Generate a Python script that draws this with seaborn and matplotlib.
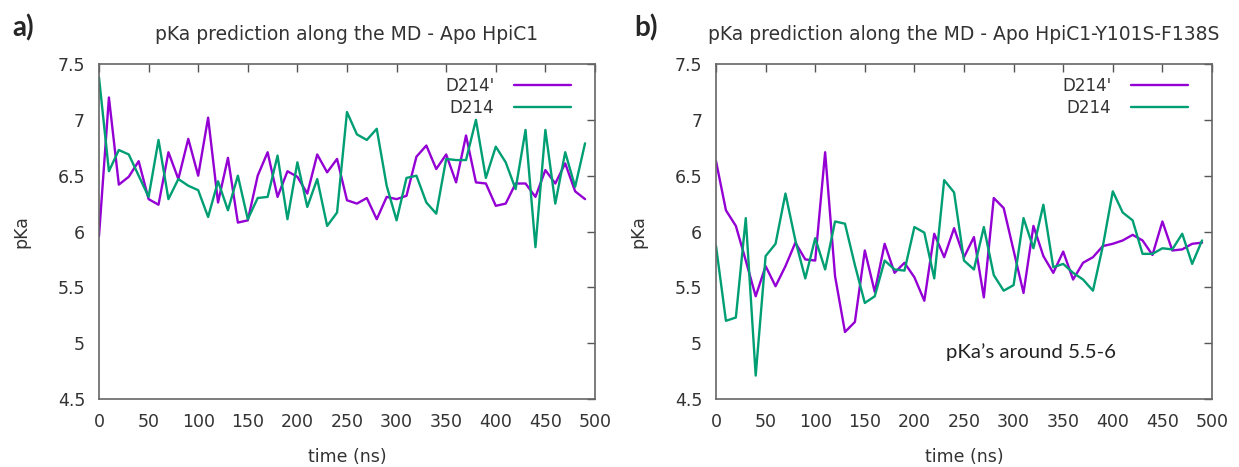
import pandas as pd
import seaborn as sns
import matplotlib.pyplot as plt
from matplotlib.ticker import FormatStrFormatter

# time axis (ns), one pKa sample every 10 ns
time_ns = [0, 10, 20, 30, 40, 50, 60, 70, 80, 90,
           100, 110, 120, 130, 140, 150, 160, 170, 180, 190,
           200, 210, 220, 230, 240, 250, 260, 270, 280, 290,
           300, 310, 320, 330, 340, 350, 360, 370, 380, 390,
           400, 410, 420, 430, 440, 450, 460, 470, 480, 490]

# panel a) Apo HpiC1
apo_d214p = [5.96, 7.20, 6.42, 6.49, 6.63, 6.29, 6.24, 6.71, 6.47, 6.83,
             6.50, 7.02, 6.26, 6.66, 6.08, 6.10, 6.50, 6.71, 6.31, 6.54,
             6.49, 6.34, 6.69, 6.53, 6.65, 6.28, 6.25, 6.30, 6.11, 6.31,
             6.29, 6.32, 6.67, 6.77, 6.56, 6.69, 6.44, 6.86, 6.44, 6.43,
             6.23, 6.25, 6.43, 6.43, 6.31, 6.55, 6.43, 6.61, 6.36, 6.29]
apo_d214 = [7.38, 6.54, 6.73, 6.69, 6.50, 6.31, 6.82, 6.29, 6.47, 6.41,
            6.37, 6.13, 6.45, 6.19, 6.50, 6.11, 6.30, 6.31, 6.68, 6.11,
            6.62, 6.22, 6.47, 6.05, 6.17, 7.07, 6.87, 6.82, 6.92, 6.41,
            6.10, 6.48, 6.50, 6.26, 6.16, 6.65, 6.64, 6.64, 7.00, 6.48,
            6.76, 6.62, 6.38, 6.91, 5.86, 6.91, 6.25, 6.71, 6.40, 6.79]

# panel b) Apo HpiC1-Y101S-F138S
mut_d214p = [6.63, 6.19, 6.05, 5.74, 5.42, 5.69, 5.51, 5.69, 5.90, 5.75,
             5.74, 6.71, 5.60, 5.10, 5.19, 5.83, 5.46, 5.89, 5.63, 5.72,
             5.59, 5.38, 5.98, 5.77, 6.03, 5.77, 5.95, 5.41, 6.30, 6.21,
             5.83, 5.45, 6.05, 5.78, 5.63, 5.82, 5.57, 5.72, 5.77, 5.87,
             5.89, 5.92, 5.97, 5.92, 5.79, 6.09, 5.83, 5.84, 5.89, 5.90]
mut_d214 = [5.87, 5.20, 5.23, 6.12, 4.71, 5.78, 5.89, 6.34, 5.92, 5.58,
            5.94, 5.66, 6.09, 6.07, 5.70, 5.36, 5.42, 5.74, 5.66, 5.65,
            6.04, 5.99, 5.58, 6.46, 6.35, 5.74, 5.66, 6.04, 5.61, 5.47,
            5.52, 6.12, 5.85, 6.24, 5.68, 5.71, 5.63, 5.57, 5.47, 5.87,
            6.36, 6.17, 6.10, 5.80, 5.80, 5.85, 5.84, 5.98, 5.71, 5.92]

series_names = ["D214'", "D214"]
colors = {"D214'": "#9400d3", "D214": "#009e73"}

sns.set_style("white")
plt.rcParams['font.family'] = ['DejaVu Sans']

fig = plt.figure(figsize=(12.39, 4.67), dpi=100)
ax_a = fig.add_axes([0.0799, 0.1456, 0.4003, 0.7173])
ax_b = fig.add_axes([0.5779, 0.1456, 0.4003, 0.7173])


def draw_panel(ax, d214p, d214, title):
    df = pd.DataFrame({
        "time": time_ns + time_ns,
        "pKa": d214p + d214,
        "res": [series_names[0]] * len(d214p) + [series_names[1]] * len(d214),
    })
    sns.lineplot(data=df, x="time", y="pKa", hue="res", hue_order=series_names,
                 palette=colors, estimator=None, linewidth=1.7, ax=ax)
    ax.set_xlim(0, 500)
    ax.set_ylim(4.5, 7.5)
    ax.set_xticks(range(0, 501, 50))
    ax.set_yticks([4.5, 5, 5.5, 6, 6.5, 7, 7.5])
    ax.yaxis.set_major_formatter(FormatStrFormatter('%g'))
    ax.tick_params(direction='in', length=6, width=1, top=True, right=True,
                   colors='#555555', labelcolor='#333333', labelsize=12.5, pad=10)
    for s in ax.spines.values():
        s.set_color('#666666')
        s.set_linewidth(1.2)
    ax.set_xlabel("time (ns)", fontsize=12.5, color='#333333', labelpad=12)
    ax.set_ylabel("pKa", fontsize=12.5, color='#333333')
    ax.yaxis.set_label_coords(-0.138, 0.5)
    ax.set_title(title, fontsize=13.5, color='#333333', y=1.063, va='center')
    ax.legend(loc="upper right", bbox_to_anchor=(0.965, 0.982), borderaxespad=0,
              frameon=False, markerfirst=False, fontsize=12,
              handlelength=3.4, handletextpad=1.2, labelspacing=0.25,
              labelcolor='#333333')


draw_panel(ax_a, apo_d214p, apo_d214, "pKa prediction along the MD - Apo HpiC1")
draw_panel(ax_b, mut_d214p, mut_d214, "pKa prediction along the MD - Apo HpiC1-Y101S-F138S")

fig.text(12 / 1239, 1 - 28 / 467, "a)", ha='left', va='center',
         fontsize=20, fontweight='bold', family=['Lato', 'DejaVu Sans'])
fig.text(634 / 1239, 1 - 28 / 467, "b)", ha='left', va='center',
         fontsize=20, fontweight='bold', family=['Lato', 'DejaVu Sans'])

ax_b.text(232, 4.92, "pKa\u2019s around 5.5-6", ha='left', va='center',
          fontsize=14.7, family=['Lato', 'DejaVu Sans'], color='#222222')

fig.savefig("out.png", dpi=100)
